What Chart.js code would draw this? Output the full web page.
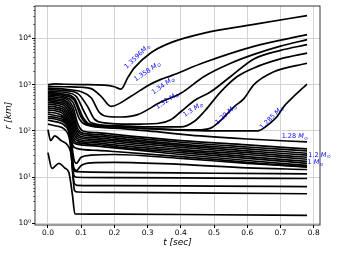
<!DOCTYPE html>
<html>
<head>
<meta charset="utf-8">
<script src="https://cdn.jsdelivr.net/npm/chart.js@4.4.1/dist/chart.umd.min.js"></script>
<style>
  html, body { margin: 0; padding: 0; background: #fff; }
  #box { width: 340px; height: 255px; }
</style>
</head>
<body>
<div id="box"><canvas id="myChart"></canvas></div>
<script>
// tick values
const xTicks = [0.0, 0.1, 0.2, 0.3, 0.4, 0.5, 0.6, 0.7, 0.8];
const yTicks = [1, 10, 100, 1000, 10000];

// exploding runs, [t (sec), r (km)]
const m13596 = [[0,1000],[0.02,1040],[0.05,1020],[0.1,1000],[0.17,975],[0.2,900],[0.22,800],[0.24,1400],[0.26,2300],[0.31,4900],[0.37,8100],[0.47,13000],[0.62,20000],[0.78,31000]];
const m1358 = [[0,920],[0.05,900],[0.1,880],[0.13,820],[0.16,560],[0.19,340],[0.25,560],[0.3,950],[0.34,1300],[0.37,1550],[0.47,3000],[0.62,6700],[0.78,12000]];
const m134 = [[0,840],[0.05,800],[0.1,700],[0.13,520],[0.155,250],[0.18,205],[0.22,200],[0.27,225],[0.34,420],[0.4,650],[0.47,1500],[0.55,2900],[0.62,4500],[0.7,6800],[0.78,9400]];
const m132 = [[0,780],[0.05,740],[0.09,640],[0.12,330],[0.14,180],[0.17,150],[0.25,140],[0.33,145],[0.37,175],[0.4,260],[0.44,450],[0.49,700],[0.55,1500],[0.62,3600],[0.7,5500],[0.78,7300]];
const m130 = [[0,720],[0.05,680],[0.085,560],[0.11,250],[0.13,150],[0.2,130],[0.3,122],[0.4,122],[0.44,160],[0.47,260],[0.52,700],[0.57,1500],[0.62,2300],[0.7,3600],[0.78,4800]];
const m129 = [[0,680],[0.05,620],[0.08,500],[0.105,200],[0.125,140],[0.2,125],[0.3,112],[0.45,105],[0.49,115],[0.52,170],[0.56,330],[0.59,500],[0.62,1000],[0.68,1900],[0.78,2900]];
const m1285 = [[0,640],[0.05,580],[0.08,450],[0.1,200],[0.12,140],[0.2,122],[0.35,108],[0.5,100],[0.63,100],[0.67,150],[0.69,205],[0.71,335],[0.73,475],[0.78,1030]];
// failed runs
const m128 = [[0,600],[0.05,540],[0.075,420],[0.095,180],[0.115,135],[0.2,115],[0.3,100],[0.46,78],[0.6,67],[0.78,58]];
const b01 = [[0,560],[0.03,530],[0.06,470],[0.075,330],[0.09,140],[0.105,100],[0.15,92],[0.2,84],[0.4,62],[0.6,50],[0.78,41]];
const b02 = [[0,520],[0.03,490],[0.058,430],[0.073,290],[0.088,120],[0.1,92],[0.15,84],[0.2,77],[0.4,57],[0.6,45],[0.78,37]];
const b03 = [[0,485],[0.03,455],[0.056,400],[0.071,260],[0.086,110],[0.098,85],[0.15,77],[0.2,71],[0.4,52],[0.6,41],[0.78,33]];
const b04 = [[0,450],[0.03,420],[0.054,370],[0.069,240],[0.084,100],[0.096,78],[0.15,71],[0.2,65],[0.4,48],[0.6,37],[0.78,30]];
const b05 = [[0,415],[0.03,390],[0.052,340],[0.067,220],[0.082,90],[0.094,72],[0.15,65],[0.2,60],[0.4,44],[0.6,34],[0.78,27]];
const b06 = [[0,380],[0.03,355],[0.05,310],[0.065,200],[0.08,80],[0.092,66],[0.15,60],[0.2,55],[0.4,40],[0.6,31],[0.78,24.5]];
const b07 = [[0,345],[0.03,320],[0.048,285],[0.063,180],[0.078,72],[0.09,61],[0.15,55],[0.2,50],[0.4,37],[0.6,28],[0.78,22]];
const b08 = [[0,315],[0.03,292],[0.046,260],[0.061,165],[0.076,65],[0.088,56],[0.15,51],[0.2,46],[0.4,34],[0.6,25.5],[0.78,20]];
const b09 = [[0,285],[0.03,265],[0.045,235],[0.06,150],[0.075,58],[0.087,52],[0.15,47],[0.2,43],[0.4,31],[0.6,23],[0.78,18]];
const b10 = [[0,255],[0.03,236],[0.044,210],[0.059,135],[0.074,50],[0.086,42],[0.15,38],[0.2,36],[0.4,28],[0.6,21],[0.78,16.5]];
const b11 = [[0,230],[0.03,210],[0.05,185],[0.065,110],[0.078,25],[0.085,20],[0.1,27],[0.13,30],[0.2,31],[0.4,25.5],[0.6,20],[0.78,17]];
const b12 = [[0,205],[0.03,190],[0.05,165],[0.066,95],[0.078,16],[0.086,14],[0.1,18],[0.13,20.5],[0.2,21],[0.4,19],[0.6,16],[0.78,14.7]];
const l1 = [[0,190],[0.03,175],[0.05,150],[0.065,90],[0.077,15],[0.085,13.2],[0.2,12.8],[0.5,12.2],[0.78,11.8]];
const l2 = [[0,170],[0.03,155],[0.05,132],[0.066,75],[0.078,11],[0.086,10],[0.2,9.8],[0.5,9.6],[0.78,9.4]];
const l3 = [[0,140],[0.025,128],[0.05,108],[0.066,60],[0.079,7.5],[0.087,6.7],[0.2,6.6],[0.5,6.45],[0.78,6.3]];
const l4 = [[0,107],[0.008,62],[0.02,78],[0.04,62],[0.06,48],[0.07,30],[0.08,5.2],[0.09,4.8],[0.2,4.7],[0.5,4.55],[0.78,4.4]];
const l5 = [[0,34],[0.012,15.6],[0.033,20],[0.05,16],[0.063,12.6],[0.074,4],[0.081,1.62],[0.2,1.6],[0.5,1.55],[0.78,1.5]];

const curves = [m13596, m1358, m134, m132, m130, m129, m1285, m128,
  b01, b02, b03, b04, b05, b06, b07, b08, b09, b10, b11, b12, l1, l2, l3, l4, l5];

// mass labels: text, t, r, angle
const noteText = ['1.3596', '1.358 ', '1.34 ', '1.32 ', '1.3 ', '1.29 ', '1.285 ', '1.28 ', '1.2 ', '1 '];
const noteT = [0.269, 0.299, 0.347, 0.359, 0.437, 0.536, 0.674, 0.743, 0.817, 0.805];
const noteR = [4030, 1910, 950, 451, 288, 225, 194, 75, 29.3, 20.6];
const noteAngle = [-44, -34, -35, -33, -33, -42, -45, 0, 0, 0];

const sup = ['\u2070', '\u00b9', '\u00b2', '\u00b3', '\u2074'];
const FONT = 'DejaVu Sans';

function drawMass(ctx, text, x, y, angle) {
  ctx.save();
  ctx.translate(x, y);
  ctx.rotate(angle * Math.PI / 180);
  const fNum = '6.5px ' + FONT, fM = 'italic 6.5px ' + FONT, fSun = '4.8px ' + FONT;
  ctx.font = fNum; const w1 = ctx.measureText(text).width;
  ctx.font = fM; const w2 = ctx.measureText('M').width;
  ctx.font = fSun; const w3 = ctx.measureText('\u2299').width;
  let x0 = -(w1 + w2 + w3) / 2;
  ctx.textBaseline = 'middle';
  ctx.fillStyle = '#0000ff';
  ctx.font = fNum; ctx.fillText(text, x0, 0); x0 += w1;
  ctx.font = fM; ctx.fillText('M', x0, 0); x0 += w2 + 0.3;
  ctx.font = fSun; ctx.fillText('\u2299', x0, 1.6);
  ctx.restore();
}

const decor = {
  id: 'decor',
  afterDatasetsDraw(chart) {
    const { ctx, chartArea: a, scales } = chart;
    const ys = scales.y, xs = scales.x;
    ctx.save();
    // minor log ticks
    ctx.strokeStyle = '#000';
    ctx.lineWidth = 0.6;
    for (let n = -1; n <= 4; n++) {
      for (let k = 2; k <= 9; k++) {
        const v = k * Math.pow(10, n);
        if (v < ys.min || v > ys.max) continue;
        const py = Math.round(ys.getPixelForValue(v)) + 0.5;
        ctx.beginPath();
        ctx.moveTo(a.left, py);
        ctx.lineTo(a.left - 1.8, py);
        ctx.stroke();
      }
    }
    // frame
    ctx.strokeStyle = '#222';
    ctx.lineWidth = 0.9;
    ctx.strokeRect(a.left, a.top, a.right - a.left, a.bottom - a.top);
    // labels
    for (let i = 0; i < noteText.length; i++) {
      drawMass(ctx, noteText[i], xs.getPixelForValue(noteT[i]), ys.getPixelForValue(noteR[i]), noteAngle[i]);
    }
    ctx.restore();
  }
};

const ctx = document.getElementById('myChart').getContext('2d');
const datasets = curves.map(c => ({
  data: c.map(p => ({ x: p[0], y: p[1] })),
  borderColor: '#000',
  borderWidth: 1.7,
  pointRadius: 0,
  fill: false,
  cubicInterpolationMode: 'monotone'
}));

new Chart(ctx, {
  type: 'line',
  data: { datasets: datasets },
  options: {
    responsive: true,
    maintainAspectRatio: false,
    animation: false,
    devicePixelRatio: 1,
    layout: { padding: { left: 0, top: 6, right: 20, bottom: 0 } },
    plugins: { legend: { display: false }, tooltip: { enabled: false } },
    scales: {
      x: {
        type: 'linear',
        min: -0.039,
        max: 0.819,
        afterBuildTicks: s => { s.ticks = xTicks.map(v => ({ value: v })); },
        afterFit: s => { s.height = 30; },
        ticks: {
          callback: v => v.toFixed(1),
          font: { family: FONT, size: 7.5 },
          color: '#000',
          padding: 1,
          maxRotation: 0,
          autoSkip: false
        },
        grid: { color: '#d4d4d4', lineWidth: 1, tickColor: '#000', tickLength: 3 },
        border: { display: false },
        title: {
          display: true,
          text: 't [sec]',
          font: { family: FONT, size: 9, style: 'italic' },
          color: '#000',
          padding: { top: 0, bottom: 6.6 }
        }
      },
      y: {
        type: 'logarithmic',
        min: 0.93,
        max: 50000,
        afterBuildTicks: s => { s.ticks = yTicks.map(v => ({ value: v, major: true })); },
        afterFit: s => { s.width = 35; },
        ticks: {
          callback: v => '10' + sup[Math.round(Math.log10(v))],
          font: { family: FONT, size: 7.5 },
          color: '#000',
          padding: 1,
          autoSkip: false
        },
        grid: { color: '#d4d4d4', lineWidth: 1, tickColor: '#000', tickLength: 3 },
        border: { display: false },
        title: {
          display: true,
          text: 'r [km]',
          font: { family: FONT, size: 9, style: 'italic' },
          color: '#000',
          padding: { top: 3.6, bottom: 0 }
        }
      }
    }
  },
  plugins: [decor]
});
</script>
</body>
</html>
